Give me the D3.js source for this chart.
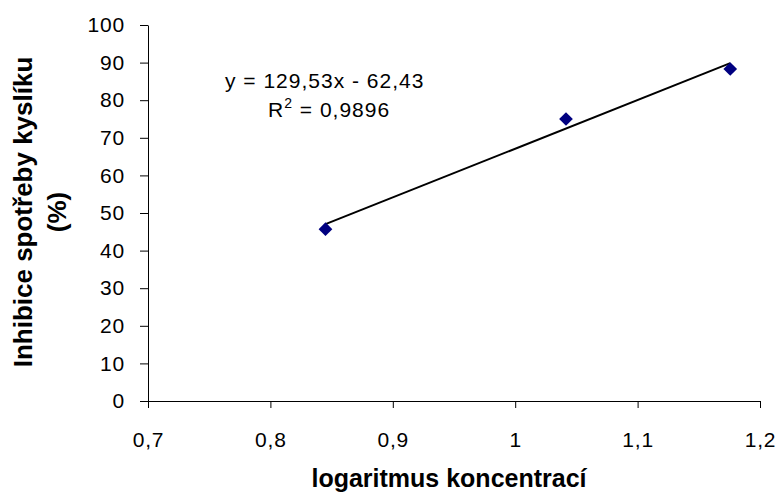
<!DOCTYPE html>
<html>
<head>
<meta charset="utf-8">
<script src="https://cdn.jsdelivr.net/npm/d3@7"></script>
<style>
  body { margin: 0; background: #fff; }
  text { font-family: Arial, "Liberation Sans", sans-serif; fill: #000; }
</style>
</head>
<body>
<script>
const concLog = [0.845, 1.0415, 1.1757]
const inhibition = [45.7, 75.0, 88.3]
const slope = 129.53
const intercept = -62.43
const rSquared = 0.9896
const xTicks = [0.7, 0.8, 0.9, 1, 1.1, 1.2]
const yTicks = [0, 10, 20, 30, 40, 50, 60, 70, 80, 90, 100]

const width = 781
const height = 497
const plot = {left: 148, right: 760, top: 25, bottom: 401}

const cz = d3.formatLocale({decimal: ',', thousands: ' ', grouping: [3], currency: ['', '']})

const x = d3.scaleLinear().domain([0.7, 1.2]).range([plot.left, plot.right])
const y = d3.scaleLinear().domain([0, 100]).range([plot.bottom, plot.top])

const svg = d3.select('body').append('svg')
  .attr('width', width)
  .attr('height', height)

// axes
svg.append('g')
  .attr('transform', `translate(0,${plot.bottom})`)
  .call(d3.axisBottom(x).tickValues(xTicks).tickFormat(cz.format('~g'))
    .tickSize(7).tickSizeOuter(0).tickPadding(24))

svg.append('g')
  .attr('transform', `translate(${plot.left},0)`)
  .call(d3.axisLeft(y).tickValues(yTicks).tickSize(8).tickSizeOuter(0).tickPadding(15))

svg.selectAll('.domain, .tick line').attr('stroke', '#000').attr('stroke-width', 1)
svg.selectAll('.tick text')
  .style('font-family', 'Arial, "Liberation Sans", sans-serif')
  .style('font-size', '21px')
  .style('letter-spacing', '0.8px')
  .attr('fill', '#000')

// trendline over the range of the data
const xr = d3.extent(concLog)
svg.append('line')
  .attr('x1', x(xr[0])).attr('y1', y(slope * xr[0] + intercept))
  .attr('x2', x(xr[1])).attr('y2', y(slope * xr[1] + intercept))
  .attr('stroke', '#000')
  .attr('stroke-width', 2)

// points
svg.selectAll('path.pt')
  .data(concLog.map((d, i) => [d, inhibition[i]]))
  .enter().append('path')
  .classed('pt', true)
  .attr('d', d3.symbol().type(d3.symbolSquare).size(94))
  .attr('transform', d => `translate(${x(d[0])},${y(d[1])}) rotate(45)`)
  .attr('fill', '#000080')

// equation label
const f2 = cz.format('.2f')
svg.append('text')
  .attr('x', 225).attr('y', 88)
  .style('font-size', '21px')
  .style('letter-spacing', '1px')
  .text(`y = ${f2(slope)}x - ${f2(Math.abs(intercept))}`)

const r2 = svg.append('text')
  .attr('x', 268).attr('y', 117)
  .style('font-size', '21px')
  .style('letter-spacing', '1px')
r2.append('tspan').text('R')
r2.append('tspan').attr('dy', -9).style('font-size', '14px').text('2')
r2.append('tspan').attr('dy', 9).text(' = ' + cz.format('.4f')(rSquared))

// axis titles
svg.append('text')
  .attr('x', 449).attr('y', 487)
  .attr('text-anchor', 'middle')
  .style('font-size', '25px')
  .style('font-weight', 'bold')
  .text('logaritmus koncentrací')

const yt = svg.append('text')
  .attr('transform', 'translate(32,212) rotate(-90)')
  .attr('text-anchor', 'middle')
  .style('font-size', '26px')
  .style('font-weight', 'bold')
yt.append('tspan').attr('x', 0).attr('y', 0).text('Inhibice spotřeby kyslíku')
yt.append('tspan').attr('x', 0).attr('y', 34).text('(%)')
</script>
</body>
</html>
